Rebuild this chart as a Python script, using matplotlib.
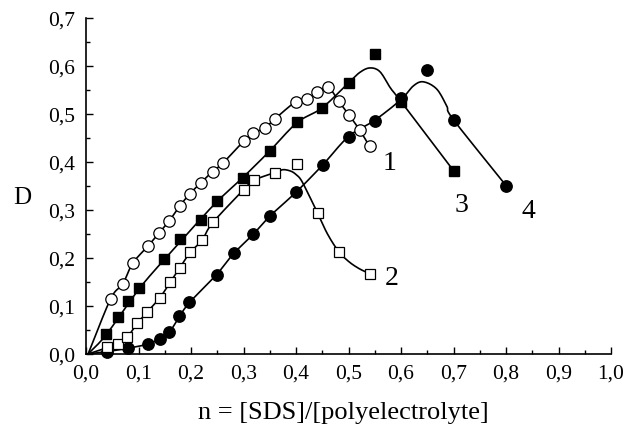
import matplotlib

matplotlib.use("Agg")
import matplotlib.pyplot as plt
import numpy as np
from matplotlib.ticker import FuncFormatter, MultipleLocator

# measured points (n, D)
S1_X = [0.047, 0.070, 0.089, 0.119, 0.139, 0.159, 0.179, 0.198, 0.219, 0.241, 0.261,
        0.300, 0.319, 0.340, 0.360, 0.400, 0.420, 0.440, 0.461, 0.481, 0.501, 0.521, 0.540]
S1_Y = [0.115, 0.146, 0.189, 0.226, 0.252, 0.278, 0.309, 0.334, 0.357, 0.380, 0.398,
        0.443, 0.461, 0.470, 0.490, 0.526, 0.531, 0.545, 0.556, 0.527, 0.498, 0.467, 0.433]

S2_X = [0.040, 0.060, 0.079, 0.098, 0.117, 0.140, 0.160, 0.179, 0.198, 0.221, 0.241,
        0.300, 0.320, 0.360, 0.401, 0.441, 0.481, 0.541]
S2_Y = [0.015, 0.021, 0.035, 0.065, 0.088, 0.116, 0.149, 0.180, 0.212, 0.237, 0.274,
        0.342, 0.363, 0.377, 0.396, 0.294, 0.213, 0.167]

S3_X = [0.039, 0.060, 0.080, 0.101, 0.148, 0.179, 0.219, 0.249, 0.299, 0.350, 0.402,
        0.450, 0.500, 0.551, 0.600, 0.700]
S3_Y = [0.041, 0.077, 0.110, 0.137, 0.197, 0.240, 0.279, 0.318, 0.367, 0.423, 0.483,
        0.512, 0.565, 0.624, 0.526, 0.382]

S4_X = [0.040, 0.080, 0.119, 0.140, 0.159, 0.178, 0.197, 0.249, 0.281, 0.319, 0.351,
        0.400, 0.451, 0.500, 0.550, 0.600, 0.649, 0.700, 0.800]
S4_Y = [0.005, 0.013, 0.021, 0.032, 0.045, 0.080, 0.108, 0.165, 0.210, 0.250, 0.288,
        0.337, 0.394, 0.453, 0.486, 0.533, 0.592, 0.488, 0.351]

# guide curves drawn through the data
C1_X = [0.004] + S1_X
C1_Y = [0.0] + S1_Y
C2_X = [0.004, 0.040, 0.060, 0.079, 0.098, 0.117, 0.140, 0.160, 0.179, 0.198, 0.221,
        0.241, 0.300, 0.320, 0.360, 0.375, 0.390, 0.400, 0.410, 0.425, 0.441, 0.460,
        0.481, 0.500, 0.520, 0.541]
C2_Y = [0.0, 0.013, 0.021, 0.036, 0.064, 0.088, 0.116, 0.149, 0.180, 0.211, 0.237,
        0.273, 0.342, 0.362, 0.378, 0.384, 0.381, 0.374, 0.362, 0.330, 0.294, 0.250,
        0.214, 0.193, 0.178, 0.167]
C3_X = [0.004, 0.039, 0.100, 0.150, 0.200, 0.250, 0.300, 0.350, 0.402, 0.450, 0.500,
        0.522, 0.541, 0.560, 0.580, 0.600, 0.700]
C3_Y = [0.0, 0.041, 0.134, 0.198, 0.259, 0.318, 0.369, 0.423, 0.482, 0.513, 0.565,
        0.587, 0.596, 0.588, 0.554, 0.526, 0.382]
C4_X = [0.004, 0.040, 0.080, 0.119, 0.140, 0.159, 0.178, 0.197, 0.249, 0.281, 0.319,
        0.351, 0.400, 0.451, 0.500, 0.550, 0.600, 0.624, 0.643, 0.668, 0.687, 0.700, 0.800]
C4_Y = [0.0, 0.005, 0.012, 0.021, 0.032, 0.046, 0.078, 0.107, 0.166, 0.209, 0.250,
        0.288, 0.337, 0.394, 0.453, 0.487, 0.530, 0.559, 0.567, 0.552, 0.517, 0.488, 0.351]

LABELS = ["1", "2", "3", "4"]
LABEL_X = [0.579, 0.582, 0.716, 0.843]
LABEL_Y = [0.400, 0.160, 0.312, 0.298]


def smooth(xs, ys, n=10):
    # Catmull-Rom through the guide points
    p = np.column_stack([xs, ys]).astype(float)
    p = np.vstack([2 * p[0] - p[1], p, 2 * p[-1] - p[-2]])
    t = np.linspace(0, 1, n, endpoint=False)[:, None]
    out = []
    for i in range(1, len(p) - 2):
        p0, p1, p2, p3 = p[i - 1], p[i], p[i + 1], p[i + 2]
        seg = 0.5 * (2 * p1 + (-p0 + p2) * t + (2 * p0 - 5 * p1 + 4 * p2 - p3) * t**2
                     + (-p0 + 3 * p1 - 3 * p2 + p3) * t**3)
        out.append(seg)
    out.append(p[-2][None, :])
    out = np.vstack(out)
    return out[:, 0], out[:, 1]


plt.rcParams["font.family"] = ["Liberation Serif", "DejaVu Serif"]

fig = plt.figure(figsize=(6.28, 4.31), dpi=100)
ax = fig.add_axes([86 / 628, 76 / 431, 525 / 628, 336 / 431])

for cx, cy in [(C1_X, C1_Y), (C2_X, C2_Y), (C3_X, C3_Y), (C4_X, C4_Y)]:
    sx, sy = smooth(cx, cy)
    ax.plot(sx, sy, color="black", lw=1.2, zorder=2, clip_on=False)

ax.plot(S4_X, S4_Y, "o", ms=8.2, mfc="black", mec="black", zorder=3, clip_on=False)
ax.plot(S3_X, S3_Y, "s", ms=7.2, mfc="black", mec="black", zorder=4, clip_on=False)
ax.plot(S2_X, S2_Y, "s", ms=7.2, mfc="white", mec="black", mew=0.9, zorder=5, clip_on=False)
ax.plot(S1_X, S1_Y, "o", ms=8.2, mfc="white", mec="black", mew=0.9, zorder=6, clip_on=False)

for lab, lx, ly in zip(LABELS, LABEL_X, LABEL_Y):
    ax.text(lx, ly, lab, fontsize=20, ha="center", va="center")

ax.set_xlim(0, 1.0)
ax.set_ylim(0, 0.7)
for side in ["top", "right"]:
    ax.spines[side].set_visible(False)
for side in ["left", "bottom"]:
    ax.spines[side].set_linewidth(1.2)

comma = FuncFormatter(lambda v, _: f"{v:.1f}".replace(".", ","))
ax.xaxis.set_major_locator(MultipleLocator(0.1))
ax.xaxis.set_minor_locator(MultipleLocator(0.05))
ax.yaxis.set_major_locator(MultipleLocator(0.1))
ax.yaxis.set_minor_locator(MultipleLocator(0.05))
ax.xaxis.set_major_formatter(comma)
ax.yaxis.set_major_formatter(comma)
ax.tick_params(which="major", direction="in", length=5, width=1, labelsize=15.5)
ax.tick_params(which="minor", direction="in", length=3, width=1)
ax.tick_params(axis="x", which="major", pad=7)
ax.tick_params(axis="y", which="major", pad=8)

ax.set_xlabel("n = [SDS]/[polyelectrolyte]", fontsize=19, va="center")
ax.xaxis.set_label_coords(0.49, -0.172)
ax.set_ylabel("D", fontsize=18, rotation=0, va="center", ha="center")
ax.yaxis.set_label_coords(-0.122, 0.467)

fig.savefig("out.png", dpi=100)
